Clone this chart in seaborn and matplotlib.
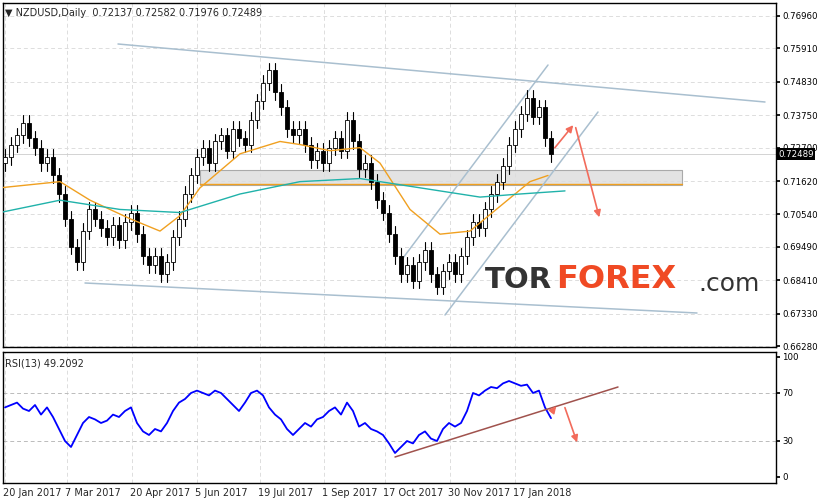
import matplotlib
matplotlib.use("Agg")
import matplotlib.pyplot as plt
import seaborn as sns
import numpy as np
import pandas as pd

sns.set_theme(style="white")
plt.rcParams['font.family'] = ['DejaVu Sans']

closes = [.724,.728,.731,.735,.730,.727,.722,.724,.718,.712,.704,.695,.690,.700,.707,.704,.701,.698,.702,.697,
          .703,.706,.699,.692,.689,.692,.686,.690,.698,.704,.712,.718,.724,.727,.722,.729,.731,.726,.733,.730,
          .728,.736,.742,.748,.752,.745,.740,.733,.731,.733,.728,.723,.726,.722,.727,.730,.726,.736,.729,.720,
          .722,.716,.710,.706,.699,.692,.686,.689,.684,.690,.694,.686,.682,.687,.690,.686,.692,.698,.703,.701,
          .707,.712,.716,.721,.728,.733,.738,.743,.737,.740,.730,.7249]
ma_fast_x = [0,60,90,130,160,180,200,240,280,300,330,360,380,410,440,470,500,530,548]
ma_fast = [.714,.716,.710,.704,.700,.705,.714,.725,.729,.728,.726,.727,.722,.707,.699,.700,.708,.716,.718]
ma_slow_x = [0,60,120,180,240,300,360,420,480,520,565]
ma_slow = [.706,.710,.707,.706,.712,.716,.717,.714,.711,.712,.713]
rsi = [58,60,62,57,55,60,52,58,50,40,30,25,35,45,50,48,45,47,52,50,
       55,58,45,38,35,40,38,45,55,62,65,70,72,70,68,72,70,65,60,55,
       62,70,72,68,58,52,48,40,35,40,45,42,48,50,55,58,52,62,55,42,
       45,40,38,35,28,20,25,30,28,35,38,32,30,40,45,42,45,55,70,68,
       72,75,74,78,80,78,76,77,70,72,58,49]
yticks = [0.7696,0.7591,0.7483,0.7375,0.7270,0.7162,0.7054,0.6949,0.6841,0.6733,0.6628]
date_labels = ["20 Jan 2017","7 Mar 2017","20 Apr 2017","5 Jun 2017","19 Jul 2017","1 Sep 2017",
               "17 Oct 2017","30 Nov 2017","17 Jan 2018"]
date_px = [3,65,130,195,258,322,383,448,513]

W, H = 819, 504
fig = plt.figure(figsize=(8.19, 5.04), dpi=100)
fig.patch.set_facecolor("white")
ax = fig.add_axes([3/W, 1-347/H, 773/W, 344/H])
ax2 = fig.add_axes([3/W, 1-483/H, 773/W, 131/H])

def px2i(x): return (x-5)/6.0
def py2p(y): return 0.7696 - (y-16)*0.0003236
def py2r(y): return (477-y)/1.2

xlo, xhi = px2i(3), px2i(776)
for a in (ax, ax2):
    a.set_xlim(xlo, xhi)
    for s in a.spines.values():
        s.set_color("black"); s.set_linewidth(1)
    a.yaxis.tick_right()
    a.tick_params(axis='y', labelsize=6.2, length=3, pad=1.5, colors='black')
    a.set_xticks([])
    for x in date_px:
        a.axvline(px2i(x+2), color="#dddddd", ls=(0,(4,3)), lw=0.7, zorder=0)
ax.set_ylim(py2p(347), py2p(3))
ax.set_yticks(yticks)
ax.set_yticklabels([f"{v:.5f}" for v in yticks])
for v in yticks:
    ax.axhline(v, color="#dddddd", ls=(0,(4,3)), lw=0.7, zorder=0)
ax2.set_ylim(py2r(483), py2r(352))
ax2.set_yticks([0,30,70,100])
for v in [30,70]:
    ax2.axhline(v, color="#bbbbbb", ls=(0,(4,3)), lw=0.7, zorder=0)

# zone
ax.fill_between([px2i(200), px2i(682)], py2p(185), py2p(170), color="#dddddd", alpha=0.8,
                edgecolor="#999999", lw=0.8, zorder=1)
ax.plot([px2i(200), px2i(682)], [py2p(184)]*2, color="#f0a020", lw=1, zorder=1)

# candles
idx = np.arange(len(closes))
opens = [closes[0]-0.002] + closes[:-1]
for i,(o,c) in enumerate(zip(opens, closes)):
    hi, lo = max(o,c)+0.0025, min(o,c)-0.0025
    ax.plot([i,i],[lo,hi], color="black", lw=0.8, zorder=3)
    col = "white" if c >= o else "black"
    ax.add_patch(plt.Rectangle((i-0.3, min(o,c)), 0.6, max(abs(c-o),0.0004),
                 facecolor=col, edgecolor="black", lw=0.6, zorder=4))

sns.lineplot(x=[px2i(x) for x in ma_fast_x], y=ma_fast, ax=ax, color="#f0a020", lw=1, zorder=5)
sns.lineplot(x=[px2i(x) for x in ma_slow_x], y=ma_slow, ax=ax, color="#20b2aa", lw=1, zorder=5)

def line(a, p1, p2, conv, **kw):
    a.plot([px2i(p1[0]), px2i(p2[0])], [conv(p1[1]), conv(p2[1])], **kw)
lc = dict(color="#a9bfcf", lw=1.1, zorder=2)
line(ax,(118,44),(765,102),py2p,**lc)
line(ax,(85,283),(697,313),py2p,**lc)
line(ax,(445,315),(598,112),py2p,**lc)
line(ax,(400,262),(548,65),py2p,**lc)
def arrow(a, p1, p2, conv):
    a.annotate("", xy=(px2i(p2[0]), conv(p2[1])), xytext=(px2i(p1[0]), conv(p1[1])),
               arrowprops=dict(arrowstyle="-|>", color="#f26b5b", lw=1.2, mutation_scale=10), zorder=6)
arrow(ax,(553,150),(575,123),py2p)
arrow(ax,(575,125),(600,220),py2p)

# current price label
ax.text(1.003, 0.72489, "0.72489", transform=ax.get_yaxis_transform(), fontsize=6.2, color="white",
        va="center", ha="left", bbox=dict(facecolor="black", edgecolor="none", pad=1), clip_on=False)
ax.axhline(0.72489, color="#cccccc", lw=0.6, zorder=1)

ax.text(0.003, 0.985, "\u25BC NZDUSD,Daily  0.72137 0.72582 0.71976 0.72489", transform=ax.transAxes,
        fontsize=7, va="top", ha="left")
# watermark
ax.text(px2i(485), py2p(280), "TOR", fontsize=21, color="#333333", fontweight="bold", va="center", zorder=7)
ax.text(px2i(556), py2p(280), "FOREX", fontsize=23, color="#f04a24", fontweight="bold", va="center", zorder=7)
ax.text(px2i(698), py2p(284), ".com", fontsize=18, color="#333333", va="center", zorder=7)

# RSI
sns.lineplot(x=idx, y=rsi, ax=ax2, color="#0000ff", lw=1.3, zorder=3)
ax2.text(0.003, 0.95, "RSI(13) 49.2092", transform=ax2.transAxes, fontsize=7, va="top", ha="left")
line(ax2,(395,457),(618,387),py2r,color="#a0524d",lw=1.1,zorder=4)
arrow(ax2,(550,414),(558,404),py2r)
arrow(ax2,(564,405),(578,445),py2r)
for x, lab in zip(date_px, date_labels):
    fig.text((x)/W, 1-493/H, lab, fontsize=7, ha="left", va="center")
ax.set_xlabel(""); ax.set_ylabel(""); ax2.set_xlabel(""); ax2.set_ylabel("")
fig.savefig("out.png", dpi=100, facecolor="white")
